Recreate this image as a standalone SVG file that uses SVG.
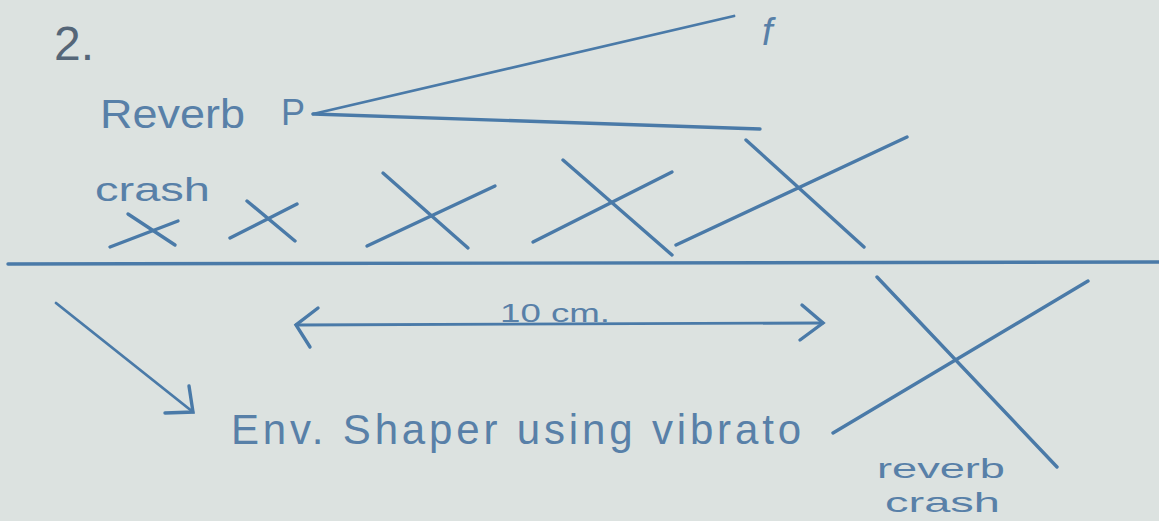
<svg xmlns="http://www.w3.org/2000/svg" width="1159" height="521" viewBox="0 0 1159 521">
<style>
.ink{stroke:#4a7aa8;stroke-width:3.4;stroke-linecap:round;fill:none}
.thin{stroke:#4a7aa8;stroke-width:2.8;stroke-linecap:round;fill:none}
.t{font-family:"Liberation Sans","DejaVu Sans",sans-serif;fill:#5880a8}
</style>
<rect width="1159" height="521" fill="#dce2e0"/>
<text x="54" y="60" font-family="Liberation Sans, sans-serif" font-size="48" fill="#556678">2.</text>
<g id="reverb-p">
<text x="100" y="128" class="t" font-size="40" textLength="145" lengthAdjust="spacingAndGlyphs">Reverb</text>
<text x="281" y="125" class="t" font-size="36">P</text>
</g>
<g id="f-label"><text x="762" y="45" class="t" font-size="38" font-style="italic">f</text></g>
<g id="connectors">
<line class="thin" x1="313" y1="114" x2="734" y2="16"/>
<line class="ink" x1="313" y1="114" x2="760" y2="129"/>
<line class="ink" x1="8" y1="264" x2="1159" y2="262"/>
<line class="thin" x1="56" y1="303" x2="193" y2="412"/>
<polyline class="ink" points="189,386 193,412 165,413"/>
<line class="thin" x1="296" y1="325" x2="823" y2="323"/>
<polyline class="ink" points="318,308 296,325 310,347"/>
<polyline class="ink" points="802,305 823,323 800,340"/>
</g>
<g id="crash-label"><text x="95" y="201" class="t" font-size="34" textLength="115" lengthAdjust="spacingAndGlyphs">crash</text></g>
<g id="x1"><line class="ink" x1="110" y1="247" x2="178" y2="221"/><line class="ink" x1="128" y1="214" x2="175" y2="245"/></g>
<g id="x2"><line class="ink" x1="230" y1="238" x2="297" y2="204"/><line class="ink" x1="247" y1="201" x2="295" y2="241"/></g>
<g id="x3"><line class="ink" x1="367" y1="246" x2="495" y2="186"/><line class="ink" x1="383" y1="173" x2="468" y2="248"/></g>
<g id="x4"><line class="ink" x1="533" y1="242" x2="672" y2="172"/><line class="ink" x1="563" y1="160" x2="672" y2="255"/></g>
<g id="x5"><line class="ink" x1="676" y1="245" x2="907" y2="137"/><line class="ink" x1="746" y1="140" x2="864" y2="247"/></g>
<g id="dim-label"><text x="500" y="322" class="t" font-size="26" textLength="110" lengthAdjust="spacingAndGlyphs">10 cm.</text></g>
<g id="env-label"><text x="231" y="444" class="t" font-size="42" textLength="570" lengthAdjust="spacing">Env. Shaper using vibrato</text></g>
<g id="big-x"><line class="ink" x1="877" y1="277" x2="1057" y2="467"/><line class="ink" x1="833" y1="433" x2="1088" y2="281"/></g>
<g id="reverb-crash-label">
<text x="877" y="478" class="t" font-size="28" textLength="128" lengthAdjust="spacingAndGlyphs">reverb</text>
<text x="885" y="512" class="t" font-size="28" textLength="115" lengthAdjust="spacingAndGlyphs">crash</text>
</g>
</svg>
